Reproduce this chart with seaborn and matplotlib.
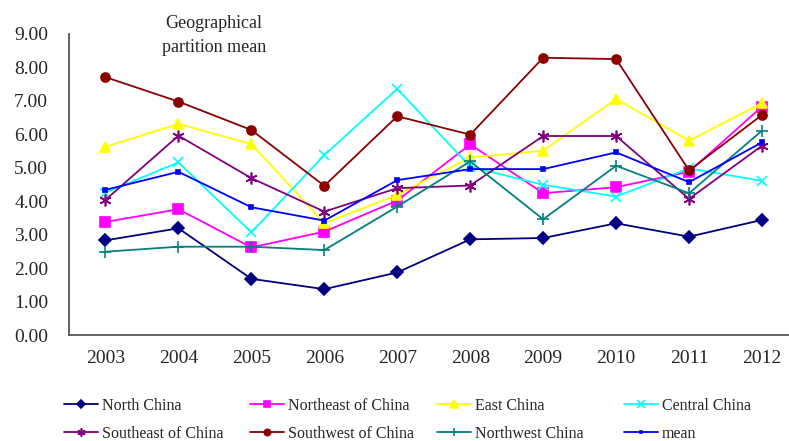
import numpy as np
import pandas as pd
import matplotlib
matplotlib.use("Agg")
import matplotlib.pyplot as plt
import seaborn as sns

years = ["2003", "2004", "2005", "2006", "2007", "2008", "2009", "2010", "2011", "2012"]

north_china = [2.83, 3.19, 1.68, 1.37, 1.87, 2.86, 2.90, 3.34, 2.94, 3.44]
northeast_china = [3.38, 3.76, 2.62, 3.09, 4.02, 5.70, 4.24, 4.42, 4.88, 6.83]
east_china = [5.63, 6.31, 5.71, 3.34, 4.19, 5.31, 5.51, 7.06, 5.81, 6.93]
central_china = [4.26, 5.16, 3.07, 5.38, 7.36, 5.03, 4.49, 4.14, 4.98, 4.61]
southeast_china = [4.04, 5.96, 4.69, 3.69, 4.39, 4.47, 5.95, 5.95, 4.07, 5.66]
southwest_china = [7.71, 6.98, 6.13, 4.46, 6.54, 5.99, 8.29, 8.25, 4.92, 6.58]
northwest_china = [2.49, 2.64, 2.64, 2.54, 3.84, 5.19, 3.46, 5.06, 4.24, 6.11]
mean_values = [4.34, 4.88, 3.82, 3.42, 4.63, 4.96, 4.96, 5.46, 4.57, 5.76]

series_names = ["North China", "Northeast of China", "East China", "Central China",
                "Southeast of China", "Southwest of China", "Northwest China", "mean"]
series_values = [north_china, northeast_china, east_china, central_china,
                 southeast_china, southwest_china, northwest_china, mean_values]

colors = ["#000080", "#FF00FF", "#FFFF00", "#00FFFF",
          "#800080", "#8B0000", "#008080", "#0000FF"]
markers = ["D", "s", "^", "x", (6, 2, 0), "o", "+", "s"]
msizes = [6.0, 6.5, 7.5, 7.5, 8.5, 6.5, 8.5, 3.0]

rows = []
for name, vals in zip(series_names, series_values):
    for i, (yr, v) in enumerate(zip(years, vals)):
        rows.append({"series": name, "idx": i, "year": yr, "value": v})
df = pd.DataFrame(rows)

sns.set_style("white")
plt.rcParams["font.family"] = ["Liberation Serif", "DejaVu Serif"]

fig = plt.figure(figsize=(7.89, 4.41), dpi=100)
ax = fig.add_axes([69 / 789, 1 - 335 / 441, 1 - 69 / 789, (335 - 34) / 441])

lines = []
for name, c, m, ms in zip(series_names, colors, markers, msizes):
    sub = df[df["series"] == name]
    sns.lineplot(data=sub, x="idx", y="value", ax=ax, color=c, marker=m,
                 markersize=ms, markeredgecolor=c, markerfacecolor=c,
                 markeredgewidth=1.2, linewidth=1.3, legend=False)
    lines.append(ax.get_lines()[-1])

ax.set_xlim(-0.5, 9.37)
ax.set_ylim(0, 9)
ax.set_yticks(np.arange(0, 9.01, 1.0))
ax.set_yticklabels([f"{v:.2f}" for v in np.arange(0, 9.01, 1.0)])
ax.set_xticks(np.arange(0.5, 9.0, 1.0))
ax.set_xticklabels([])
ax.set_xticks(np.arange(0, 10), minor=True)
ax.set_xticklabels(years, minor=True)
ax.tick_params(axis="x", which="major", direction="in", length=5, width=1.0, color="#444444")
ax.tick_params(axis="x", which="minor", length=0, labelsize=14, pad=11)
ax.tick_params(axis="y", direction="in", length=6, width=1.0, color="#444444",
               labelsize=14, pad=15)
ax.set_xlabel("")
ax.set_ylabel("")
for s in ["top", "right"]:
    ax.spines[s].set_visible(False)
for s in ["left", "bottom"]:
    ax.spines[s].set_color("#555555")
    ax.spines[s].set_linewidth(1.3)

fig.text(214 / 789, 1 - 23 / 441, "Geographical", ha="center", va="center", fontsize=13)
fig.text(214 / 789, 1 - 48 / 441, "partition mean", ha="center", va="center", fontsize=13)

# legend: four columns, two rows each
col_x = [64, 250, 437, 624]
for k in range(4):
    hs = [lines[k], lines[k + 4]]
    labs = [series_names[k], series_names[k + 4]]
    fig.legend(hs, labs, loc="upper left", bbox_to_anchor=(col_x[k] / 789, 1 - 398 / 441),
               frameon=False, fontsize=11.5, handlelength=2.1, handletextpad=0.25,
               labelspacing=0.75, borderaxespad=0, borderpad=0, markerscale=0.7)

fig.savefig("out.png", dpi=100)
